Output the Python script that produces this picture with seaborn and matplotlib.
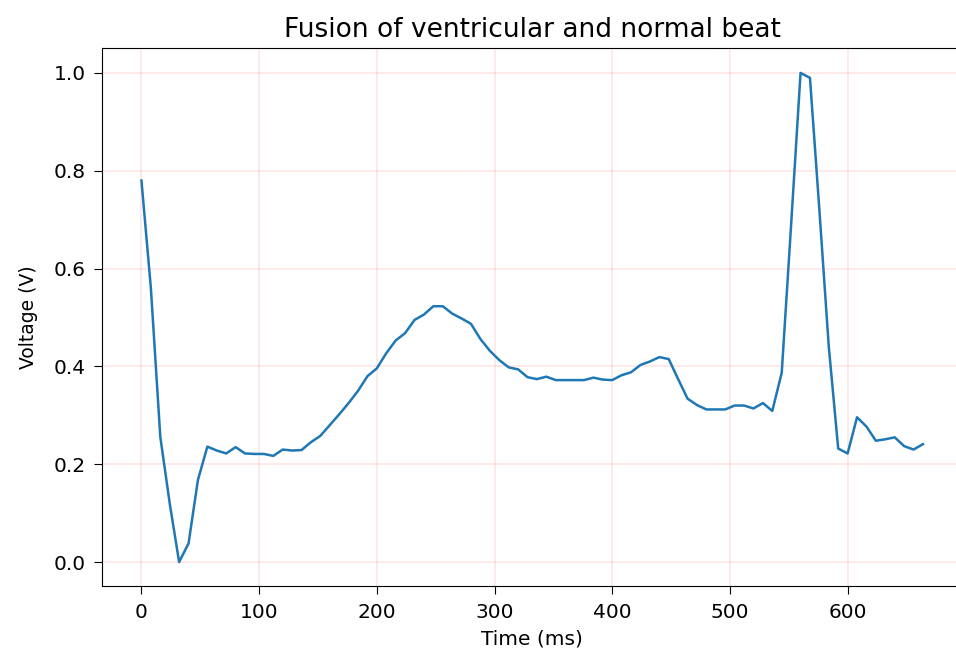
import numpy as np
import pandas as pd
import matplotlib
matplotlib.use("Agg")
import matplotlib.pyplot as plt
import seaborn as sns

time_ms = list(range(0, 665, 8))
voltage = [
    0.78, 0.56, 0.256, 0.12, 0.0, 0.038, 0.168, 0.236, 0.228, 0.222,
    0.235, 0.222, 0.221, 0.221, 0.217, 0.230, 0.228, 0.229, 0.245, 0.258,
    0.280, 0.302, 0.325, 0.350, 0.380, 0.396, 0.427, 0.453, 0.468, 0.495,
    0.506, 0.523, 0.523, 0.508, 0.498, 0.487, 0.456, 0.432, 0.413, 0.398,
    0.394, 0.378, 0.374, 0.379, 0.372, 0.372, 0.372, 0.372, 0.377, 0.373,
    0.372, 0.382, 0.388, 0.403, 0.410, 0.419, 0.415, 0.374, 0.334, 0.321,
    0.312, 0.312, 0.312, 0.320, 0.320, 0.314, 0.325, 0.309, 0.387, 0.69,
    1.0, 0.99, 0.72, 0.44, 0.232, 0.222, 0.296, 0.277, 0.248, 0.251,
    0.255, 0.237, 0.230, 0.241,
]

df = pd.DataFrame({"time": time_ms, "voltage": voltage})

fig = plt.figure(figsize=(9.56, 6.5), dpi=100)
ax = fig.add_axes([0.1071, 0.0977, 0.8992, 0.8277])

sns.lineplot(data=df, x="time", y="voltage", ax=ax, color="#1f77b4", linewidth=1.8)

ax.set_xlim(-33.2, 697.2)
ax.set_ylim(-0.05, 1.05)
ax.set_xticks([0, 100, 200, 300, 400, 500, 600])
ax.set_yticks([0.0, 0.2, 0.4, 0.6, 0.8, 1.0])
ax.grid(True, color="red", alpha=0.1, linewidth=1.2)
ax.set_axisbelow(True)

ax.tick_params(labelsize=14.5, length=6, pad=6)
ax.set_title("Fusion of ventricular and normal beat", fontsize=19, pad=8)
ax.set_xlabel("Time (ms)", fontsize=14.5, labelpad=5)
ax.set_ylabel("Voltage (V)", fontsize=13.5, labelpad=11)

fig.savefig("out.png", dpi=100)
plt.close(fig)
